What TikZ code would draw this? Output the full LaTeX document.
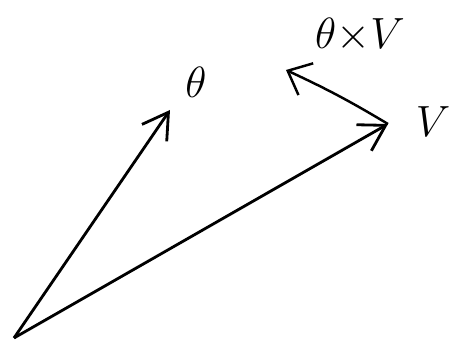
\documentclass[tikz,border=0pt]{standalone}
\usepackage{amsmath,amssymb}
\usepackage{tikz}
\usetikzlibrary{arrows.meta,positioning,calc}
\tikzset{
    every node/.style={font=\Huge},
    vec/.style={line width=1.6pt,-{Straight Barb[length=5mm,width=6mm,line width=1.6pt]}},
    rotarrow/.style={line width=1.4pt,-{Straight Barb[length=4mm,width=7mm,line width=1.4pt]}},
    lbl/.style={inner sep=1pt}
}
\begin{document}
\begin{tikzpicture}[x=0.02cm,y=-0.02cm]
\useasboundingbox (0,0) rectangle (458,350);
\coordinate (orig) at (14,338);
\coordinate (thtip) at (170,110);
\coordinate (vtip) at (388,124);
\coordinate (rottip) at (286,70);
% vectors
\draw[vec] (orig) -- (thtip);
\draw[vec] (orig) -- (vtip);
\node[lbl] (thlbl) at (196,82) {$\theta$};
\node[lbl] (vlbl) at (433,122) {$V$};
% rotation of v
\draw[rotarrow] (vtip) to[bend right=3] (rottip);
\node[lbl] (crosslbl) at (360,35) {$\theta{\times}V$};
\end{tikzpicture}
\end{document}
